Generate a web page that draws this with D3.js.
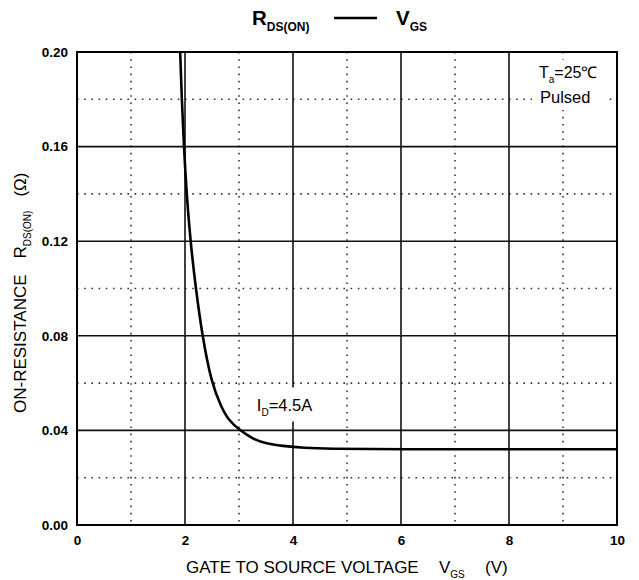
<!DOCTYPE html>
<html lang="en">
<head>
<meta charset="UTF-8">
<title>RDS(ON) - VGS</title>
<style>
  body { margin: 0; background: #fff; }
  text { font-family: "Liberation Sans", Arial, sans-serif; fill: #000; }
</style>
</head>
<body>
<script src="https://d3js.org/d3.v7.min.js"></script>
<div id="container"></div>
<script>
// curve
var vgs = [1.89, 1.91, 1.94, 1.98, 2.03, 2.10, 2.20, 2.32, 2.49, 2.67, 2.80, 3.02, 3.25, 3.48, 3.80, 4.20, 4.70, 5.5, 10];
var rds = [0.215, 0.200, 0.180, 0.160, 0.140, 0.120, 0.100, 0.080, 0.060, 0.050, 0.0444, 0.040, 0.0365, 0.0345, 0.0334, 0.0326, 0.0322, 0.0320, 0.0320];

var xTicks = [0, 2, 4, 6, 8, 10];
var xMinor = [1, 3, 5, 7, 9];
var yTicks = [0, 0.04, 0.08, 0.12, 0.16, 0.20];
var yMinor = [0.02, 0.06, 0.10, 0.14, 0.18];

var W = 639, H = 580;
var margin = {top: 52, left: 77, right: 22, bottom: 55};
var width = W - margin.left - margin.right;
var height = H - margin.top - margin.bottom;

var x = d3.scaleLinear().domain([0, 10]).range([0, width]);
var y = d3.scaleLinear().domain([0, 0.20]).range([height, 0]);

var svg = d3.select('#container').append('svg').attr('width', W).attr('height', H);
var g = svg.append('g').attr('transform', `translate(${margin.left},${margin.top})`);

// dotted minor grid
g.append('g').selectAll('line.vminor').data(xMinor).enter().append('line')
  .attr('x1', d => x(d)).attr('x2', d => x(d)).attr('y1', 0).attr('y2', height)
  .attr('stroke', '#333').attr('stroke-width', 1.6).attr('stroke-dasharray', '1.6,5.6');
g.append('g').selectAll('line.hminor').data(yMinor).enter().append('line')
  .attr('y1', d => y(d)).attr('y2', d => y(d)).attr('x1', 0).attr('x2', width)
  .attr('stroke', '#333').attr('stroke-width', 1.6).attr('stroke-dasharray', '1.6,5.6');

// solid major grid
g.append('g').selectAll('line').data(xTicks.slice(1, -1)).enter().append('line')
  .attr('x1', d => x(d)).attr('x2', d => x(d)).attr('y1', 0).attr('y2', height)
  .attr('stroke', '#111').attr('stroke-width', 1.6);
g.append('g').selectAll('line').data(yTicks.slice(1, -1)).enter().append('line')
  .attr('y1', d => y(d)).attr('y2', d => y(d)).attr('x1', 0).attr('x2', width)
  .attr('stroke', '#111').attr('stroke-width', 1.6);

// label box for ID
var idLabel = g.append('g').attr('transform', `translate(${x(3.33)},${y(0.048)})`);
idLabel.append('rect').attr('x', -10).attr('y', -24).attr('width', 80).attr('height', 34).attr('fill', '#fff');
var idText = idLabel.append('text').attr('x', 0).attr('y', 0).style('font-size', '16.5px');
idText.append('tspan').text('I');
idText.append('tspan').attr('dy', 5).style('font-size', '10px').text('D');
idText.append('tspan').attr('dy', -5).text('=4.5A');

// condition note box
svg.append('rect').attr('x', 532).attr('y', 60).attr('width', 76).attr('height', 50).attr('fill', '#fff');
var ta = svg.append('text').attr('x', 539).attr('y', 78).style('font-size', '16px');
ta.append('tspan').text('T');
ta.append('tspan').attr('dy', 5).style('font-size', '10px').text('a');
ta.append('tspan').attr('dy', -5).text('=25\u2103');
svg.append('text').attr('x', 540).attr('y', 103).style('font-size', '16.5px').text('Pulsed');

// frame
g.append('rect').attr('width', width).attr('height', height)
  .attr('fill', 'none').attr('stroke', '#000').attr('stroke-width', 2);

// curve
var pts = vgs.map((v, i) => [v, rds[i]]);
g.append('clipPath').attr('id', 'clip').append('rect').attr('width', width).attr('height', height);
g.append('path').datum(pts)
  .attr('clip-path', 'url(#clip)')
  .attr('fill', 'none').attr('stroke', '#000').attr('stroke-width', 2.6)
  .attr('d', d3.line().x(d => x(d[0])).y(d => y(d[1])).curve(d3.curveBasis));

// axes
var xAxis = g.append('g').attr('transform', `translate(0,${height})`)
  .call(d3.axisBottom(x).tickValues(xTicks).tickSize(0).tickPadding(10).tickFormat(d3.format('d')));
xAxis.select('.domain').remove();
xAxis.selectAll('text').style('font-size', '13.5px').style('font-weight', 'bold').attr('fill', '#000');

var yAxis = g.append('g')
  .call(d3.axisLeft(y).tickValues(yTicks).tickSize(0).tickPadding(9).tickFormat(d3.format('.2f')));
yAxis.select('.domain').remove();
yAxis.selectAll('text').style('font-size', '13.5px').style('font-weight', 'bold').attr('fill', '#000');

// title
var title = svg.append('text').attr('x', 252).attr('y', 25).style('font-size', '20.5px').style('font-weight', 'bold');
title.append('tspan').text('R');
title.append('tspan').attr('dy', 6).style('font-size', '12px').text('DS(ON)');
svg.append('line').attr('x1', 334).attr('x2', 377).attr('y1', 18).attr('y2', 18)
  .attr('stroke', '#000').attr('stroke-width', 2.5);
var title2 = svg.append('text').attr('x', 396).attr('y', 25).style('font-size', '20.5px').style('font-weight', 'bold');
title2.append('tspan').text('V');
title2.append('tspan').attr('dy', 6).style('font-size', '12px').text('GS');

// x label
var xl = svg.append('text').attr('x', 186).attr('y', 573).style('font-size', '17px');
xl.append('tspan').text('GATE TO SOURCE VOLTAGE');
xl.append('tspan').attr('x', 439).text('V');
xl.append('tspan').attr('dy', 5).style('font-size', '10px').text('GS');
xl.append('tspan').attr('x', 485).attr('dy', -5).text('(V)');

// y label
var yl = svg.append('text').attr('transform', 'translate(26,413) rotate(-90)').style('font-size', '17px');
yl.append('tspan').text('ON-RESISTANCE');
yl.append('tspan').attr('dx', 16).text('R');
yl.append('tspan').attr('dy', 5).style('font-size', '10px').text('DS(ON)');
yl.append('tspan').attr('dx', 14).attr('dy', -5).text('(\u03A9)');
</script>
</body>
</html>
